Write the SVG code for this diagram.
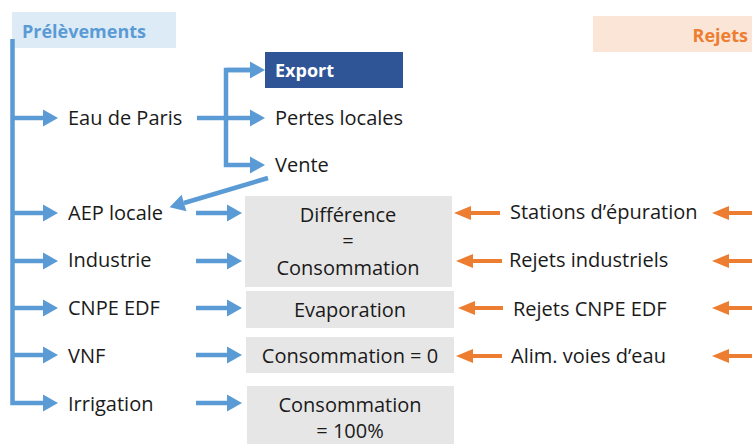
<svg xmlns="http://www.w3.org/2000/svg" width="752" height="444" viewBox="0 0 752 444">
<style>
text{font-family:"Open Sans","Noto Sans",sans-serif;font-size:20px;fill:#1a1a1a}
.b{font-weight:bold;font-size:18px}
.c{text-anchor:middle}
.bl{stroke:#5B9BD5;stroke-width:4.5;fill:none}
.or{stroke:#ED7D31;stroke-width:4;fill:none}
.gb{fill:#E7E6E6}
</style>
<defs>
<marker id="ab" markerUnits="userSpaceOnUse" markerWidth="16" markerHeight="17" refX="0" refY="8.5" orient="auto" overflow="visible">
<path d="M0,0 L15,8.5 L0,17 z" fill="#5B9BD5"/>
</marker>
<marker id="ao" markerUnits="userSpaceOnUse" markerWidth="18" markerHeight="14" refX="0" refY="7" orient="auto" overflow="visible">
<path d="M0,0 L17,7 L0,14 z" fill="#ED7D31"/>
</marker>
</defs>

<g id="prelevements">
<rect x="12" y="12" width="164" height="36" fill="#DDEBF7"/>
<text x="22" y="38" class="b" fill="#5B9BD5" style="fill:#5B9BD5">Prélèvements</text>
</g>
<g id="rejets">
<rect x="593" y="16" width="159" height="36" fill="#FBE5D6"/>
<text x="748" y="42" class="b" text-anchor="end" style="fill:#ED7D31">Rejets</text>
</g>
<g id="export">
<rect x="265" y="52" width="138" height="36" fill="#2F5597"/>
<text x="275" y="77" class="b" style="fill:#ffffff">Export</text>
</g>
<g id="eau-de-paris"><text x="68" y="125">Eau de Paris</text></g>
<g id="pertes-locales"><text x="275" y="125">Pertes locales</text></g>
<g id="vente"><text x="275" y="172">Vente</text></g>
<g id="aep-locale"><text x="68" y="220">AEP locale</text></g>
<g id="industrie"><text x="68" y="267">Industrie</text></g>
<g id="cnpe-edf"><text x="68" y="315">CNPE EDF</text></g>
<g id="vnf"><text x="68" y="363">VNF</text></g>
<g id="irrigation"><text x="68" y="411">Irrigation</text></g>

<g id="difference">
<rect class="gb" x="245" y="196" width="207" height="91"/>
<text x="348" y="222" class="c">Différence</text>
<text x="348" y="248" class="c">=</text>
<text x="348" y="275" class="c">Consommation</text>
</g>
<g id="evaporation">
<rect class="gb" x="246" y="291" width="208" height="37"/>
<text x="350" y="317" class="c">Evaporation</text>
</g>
<g id="consommation-0">
<rect class="gb" x="246" y="337" width="208" height="36"/>
<text x="350" y="363" class="c">Consommation = 0</text>
</g>
<g id="consommation-100">
<rect class="gb" x="247" y="386" width="207" height="62"/>
<text x="350" y="412" class="c">Consommation</text>
<text x="350" y="438" class="c">= 100%</text>
</g>

<g id="stations"><text x="510" y="219">Stations d’épuration</text></g>
<g id="rejets-industriels"><text x="509" y="267">Rejets industriels</text></g>
<g id="rejets-cnpe"><text x="513" y="316">Rejets CNPE EDF</text></g>
<g id="alim-voies"><text x="511" y="363">Alim. voies d’eau</text></g>

<g id="connectors">
<path class="bl" d="M12.5,39 V403 H43" marker-end="url(#ab)"/>
<path class="bl" d="M12.5,118 H43" marker-end="url(#ab)"/>
<path class="bl" d="M12.5,213 H43" marker-end="url(#ab)"/>
<path class="bl" d="M12.5,261 H43" marker-end="url(#ab)"/>
<path class="bl" d="M12.5,308 H43" marker-end="url(#ab)"/>
<path class="bl" d="M12.5,355 H43" marker-end="url(#ab)"/>
<path class="bl" d="M197,118 H250" marker-end="url(#ab)"/>
<path class="bl" d="M250,70 H226 V165 H250" marker-end="url(#ab)"/>
<path class="bl" d="M226,70 H250" marker-end="url(#ab)"/>
<path class="bl" d="M268,178 L184,203" marker-end="url(#ab)"/>
<path class="bl" d="M196,213 H227" marker-end="url(#ab)"/>
<path class="bl" d="M196,261 H227" marker-end="url(#ab)"/>
<path class="bl" d="M196,308 H227" marker-end="url(#ab)"/>
<path class="bl" d="M196,355 H227" marker-end="url(#ab)"/>
<path class="bl" d="M196,403 H227" marker-end="url(#ab)"/>
<path class="or" d="M500,213 H471" marker-end="url(#ao)"/>
<path class="or" d="M502,261 H473" marker-end="url(#ao)"/>
<path class="or" d="M503,308 H475" marker-end="url(#ao)"/>
<path class="or" d="M502,356 H473" marker-end="url(#ao)"/>
<path class="or" d="M752,213 H729" marker-end="url(#ao)"/>
<path class="or" d="M752,261 H729" marker-end="url(#ao)"/>
<path class="or" d="M752,308 H729" marker-end="url(#ao)"/>
<path class="or" d="M752,356 H729" marker-end="url(#ao)"/>
</g>
</svg>
